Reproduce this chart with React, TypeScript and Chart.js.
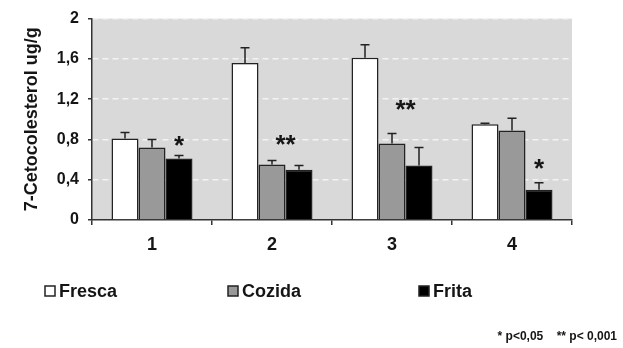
import React, { useEffect, useRef } from 'react';
import { Chart, registerables } from 'chart.js';

Chart.register(...registerables);

const categories = ['1', '2', '3', '4'];
const seriesNames = ['Fresca', 'Cozida', 'Frita'];
const fresca = [0.81, 1.56, 1.61, 0.95];
const cozida = [0.72, 0.55, 0.76, 0.89];
const frita = [0.61, 0.5, 0.54, 0.3];
const frescaErr = [0.06, 0.15, 0.13, 0.01];
const cozidaErr = [0.08, 0.04, 0.1, 0.12];
const fritaErr = [0.03, 0.04, 0.18, 0.07];
const yTickValues = [0, 0.4, 0.8, 1.2, 1.6, 2];
const yTickLabels = ['0', '0,4', '0,8', '1,2', '1,6', '2'];
const sigLabels = ['*', '**', '**', '*'];
const sigLevels = [0.78, 0.79, 1.14, 0.56];
const yTitle = '7-Cetocolesterol ug/g';
const footnote = '* p<0,05    ** p< 0,001';
const seriesColors = ['#ffffff', '#999999', '#000000'];

const FONT = "'Liberation Sans', Arial, Helvetica, sans-serif";
const INK = '#151515';

const seriesValues = [fresca, cozida, frita];
const seriesErrors = [frescaErr, cozidaErr, fritaErr];

const bgPlugin = {
  id: 'plotBg',
  beforeDraw(chart: any) {
    const { ctx, chartArea: a } = chart;
    ctx.save();
    ctx.fillStyle = '#d9d9d9';
    ctx.fillRect(a.left, a.top, a.right - a.left, a.bottom - a.top);
    ctx.restore();
  },
};

const errorPlugin = {
  id: 'errBars',
  afterDatasetsDraw(chart: any) {
    const { ctx } = chart;
    const y = chart.scales.y;
    ctx.save();
    ctx.strokeStyle = '#222';
    ctx.lineWidth = 1.5;
    seriesErrors.forEach((errs, i) => {
      const meta = chart.getDatasetMeta(i);
      meta.data.forEach((bar: any, j: number) => {
        const v = seriesValues[i][j];
        const x = bar.x;
        const y0 = y.getPixelForValue(v);
        const y1 = y.getPixelForValue(v + errs[j]);
        ctx.beginPath();
        ctx.moveTo(x, y0);
        ctx.lineTo(x, y1);
        ctx.moveTo(x - 4.5, y1);
        ctx.lineTo(x + 4.5, y1);
        ctx.stroke();
      });
    });
    ctx.restore();
  },
};

const sigPlugin = {
  id: 'sigMarks',
  afterDatasetsDraw(chart: any) {
    const { ctx } = chart;
    const y = chart.scales.y;
    const m1 = chart.getDatasetMeta(1);
    const m2 = chart.getDatasetMeta(2);
    ctx.save();
    ctx.fillStyle = INK;
    ctx.font = `bold 26px ${FONT}`;
    ctx.textAlign = 'center';
    ctx.textBaseline = 'alphabetic';
    sigLabels.forEach((lab, j) => {
      const x = lab.length > 1 ? (m1.data[j].x + m2.data[j].x) / 2 : m2.data[j].x;
      const target = y.getPixelForValue(sigLevels[j]);
      const mt = ctx.measureText(lab);
      const asc = mt.actualBoundingBoxAscent;
      const desc = mt.actualBoundingBoxDescent;
      const yy = target - (desc - asc) / 2;
      ctx.fillText(lab, x, yy);
    });
    ctx.restore();
  },
};

const legendPlugin = {
  id: 'customLegend',
  afterDraw(chart: any) {
    const { ctx, width } = chart;
    ctx.save();
    const boxX = [45, 228, 419];
    const yc = 291;
    ctx.font = `bold 18px ${FONT}`;
    ctx.textBaseline = 'middle';
    ctx.textAlign = 'left';
    seriesNames.forEach((name, i) => {
      ctx.fillStyle = seriesColors[i];
      ctx.fillRect(boxX[i], yc - 5, 10, 10);
      ctx.strokeStyle = '#222';
      ctx.lineWidth = 1.5;
      ctx.strokeRect(boxX[i], yc - 5, 10, 10);
      ctx.fillStyle = INK;
      ctx.fillText(name, boxX[i] + 14, yc + 1);
    });
    ctx.font = `bold 12px ${FONT}`;
    ctx.textAlign = 'right';
    ctx.fillText(footnote, width - 6, 337);
    ctx.restore();
  },
};

export default function App() {
  const ref = useRef<HTMLCanvasElement>(null);
  useEffect(() => {
    document.body.style.margin = '0';
    const canvas = ref.current;
    if (!canvas) return;
    const chart = new Chart(canvas, {
      type: 'bar',
      data: {
        labels: categories,
        datasets: seriesNames.map((name, i) => ({
          label: name,
          data: seriesValues[i],
          backgroundColor: seriesColors[i],
          borderColor: '#222',
          borderWidth: 1.5,
          categoryPercentage: 0.675,
          barPercentage: 1,
        })),
      },
      options: {
        responsive: false,
        animation: false,
        layout: { padding: { top: 18, right: 51, bottom: 88, left: 0 } },
        plugins: { legend: { display: false }, tooltip: { enabled: false } },
        scales: {
          x: {
            afterFit: (s: any) => { s.height = 40; },
            grid: { offset: true, drawOnChartArea: false, tickLength: 5, color: '#333', lineWidth: 1.5 },
            border: { color: '#333', width: 1.5 },
            ticks: { color: INK, font: { family: FONT, size: 18, weight: 'bold' }, padding: 9 },
          },
          y: {
            min: 0,
            max: 2,
            afterFit: (s: any) => { s.width = 92; },
            afterBuildTicks: (s: any) => { s.ticks = yTickValues.map((v) => ({ value: v })); },
            grid: {
              color: (c: any) => (c.tick && c.tick.value === 0 ? 'rgba(0,0,0,0)' : '#f3f3f3'),
              tickColor: '#333',
              tickLength: 4,
              lineWidth: 1.5,
            },
            border: { color: '#333', width: 1.5, dash: [6, 4] },
            ticks: {
              color: INK,
              font: { family: FONT, size: 16, weight: 'bold' },
              padding: 9,
              callback: (v: any) => {
                const k = yTickValues.findIndex((t) => Math.abs(t - Number(v)) < 1e-6);
                return k >= 0 ? yTickLabels[k] : '';
              },
            },
            title: {
              display: true,
              text: yTitle,
              color: INK,
              font: { family: FONT, size: 18, weight: 'bold' },
              padding: { top: 21, bottom: 0 },
            },
          },
        },
      },
      plugins: [bgPlugin, errorPlugin, sigPlugin, legendPlugin],
    } as any);
    return () => chart.destroy();
  }, []);
  return (
    <div style={{ width: 623, height: 348 }}>
      <canvas ref={ref} width={623} height={348} />
    </div>
  );
}
